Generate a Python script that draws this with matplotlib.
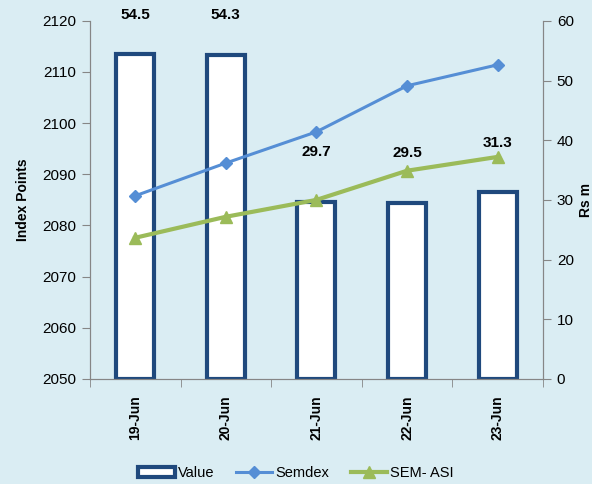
import matplotlib.pyplot as plt
import numpy as np

plt.rcParams['font.family'] = ['Liberation Sans', 'DejaVu Sans']

dates = ['19-Jun', '20-Jun', '21-Jun', '22-Jun', '23-Jun']
value = [54.5, 54.3, 29.7, 29.5, 31.3]
semdex = [2085.8, 2092.2, 2098.3, 2107.3, 2111.4]
sem_asi = [2077.6, 2081.7, 2085.0, 2090.7, 2093.4]

bg = '#DAEDF3'
grey = '#868686'

fig = plt.figure(figsize=(5.92, 4.84), dpi=100, facecolor=bg)
ax = fig.add_axes([0.152, 0.217, 0.765, 0.74])
ax2 = ax.twinx()
ax.set_facecolor(bg)

x = np.arange(len(dates))

# bars on the right (Rs m) axis, lines on the left (index) axis
ax2.set_zorder(1)
ax.set_zorder(2)
ax.patch.set_visible(False)
ax2.patch.set_visible(True)
ax2.patch.set_facecolor(bg)

bars = ax2.bar(x, value, width=0.42, color='white', edgecolor='#1F497D',
               linewidth=3, label='Value')
for xi, v in zip(x, value):
    ax2.text(xi, min(v + 8.3, 61), f'{v:.1f}', ha='center', va='center',
             fontsize=11, fontweight='bold', color='black')

l1, = ax.plot(x, semdex, color='#558ED5', lw=2.2, marker='D', ms=6,
              label='Semdex')
l2, = ax.plot(x, sem_asi, color='#9BBB59', lw=3, marker='^', ms=9,
              label='SEM- ASI')

ax.set_xlim(-0.5, 4.5)
ax.set_ylim(2050, 2120)
ax.set_yticks(np.arange(2050, 2121, 10))
ax2.set_ylim(0, 60)
ax2.set_yticks(np.arange(0, 61, 10))

ax.set_xticks(x)
ax.set_xticklabels(dates, rotation=90, fontsize=10, fontweight='bold')
ax.set_xticks(np.arange(-0.5, 5, 1), minor=True)
ax.tick_params(axis='x', which='major', length=0, pad=12)
ax.tick_params(axis='x', which='minor', length=6, color=grey)
ax.tick_params(axis='y', length=6, color=grey, labelsize=11, pad=4)
ax2.tick_params(axis='y', length=6, color=grey, labelsize=11, pad=4)

for a in (ax, ax2):
    a.spines['top'].set_visible(False)
    for s in ('left', 'right', 'bottom'):
        a.spines[s].set_color(grey)

ax.set_ylabel('Index Points', fontsize=10, fontweight='bold', labelpad=9)
ax2.set_ylabel('Rs m', fontsize=10, fontweight='bold', labelpad=4,
               rotation=90)

fig.legend([bars, l1, l2], ['Value', 'Semdex', 'SEM- ASI'], loc='center',
           bbox_to_anchor=(0.5, 0.022), ncol=3, frameon=False, fontsize=10.5,
           handlelength=2.5, columnspacing=1.5, handletextpad=0.2)

fig.savefig('out.png', dpi=100, facecolor=bg)
